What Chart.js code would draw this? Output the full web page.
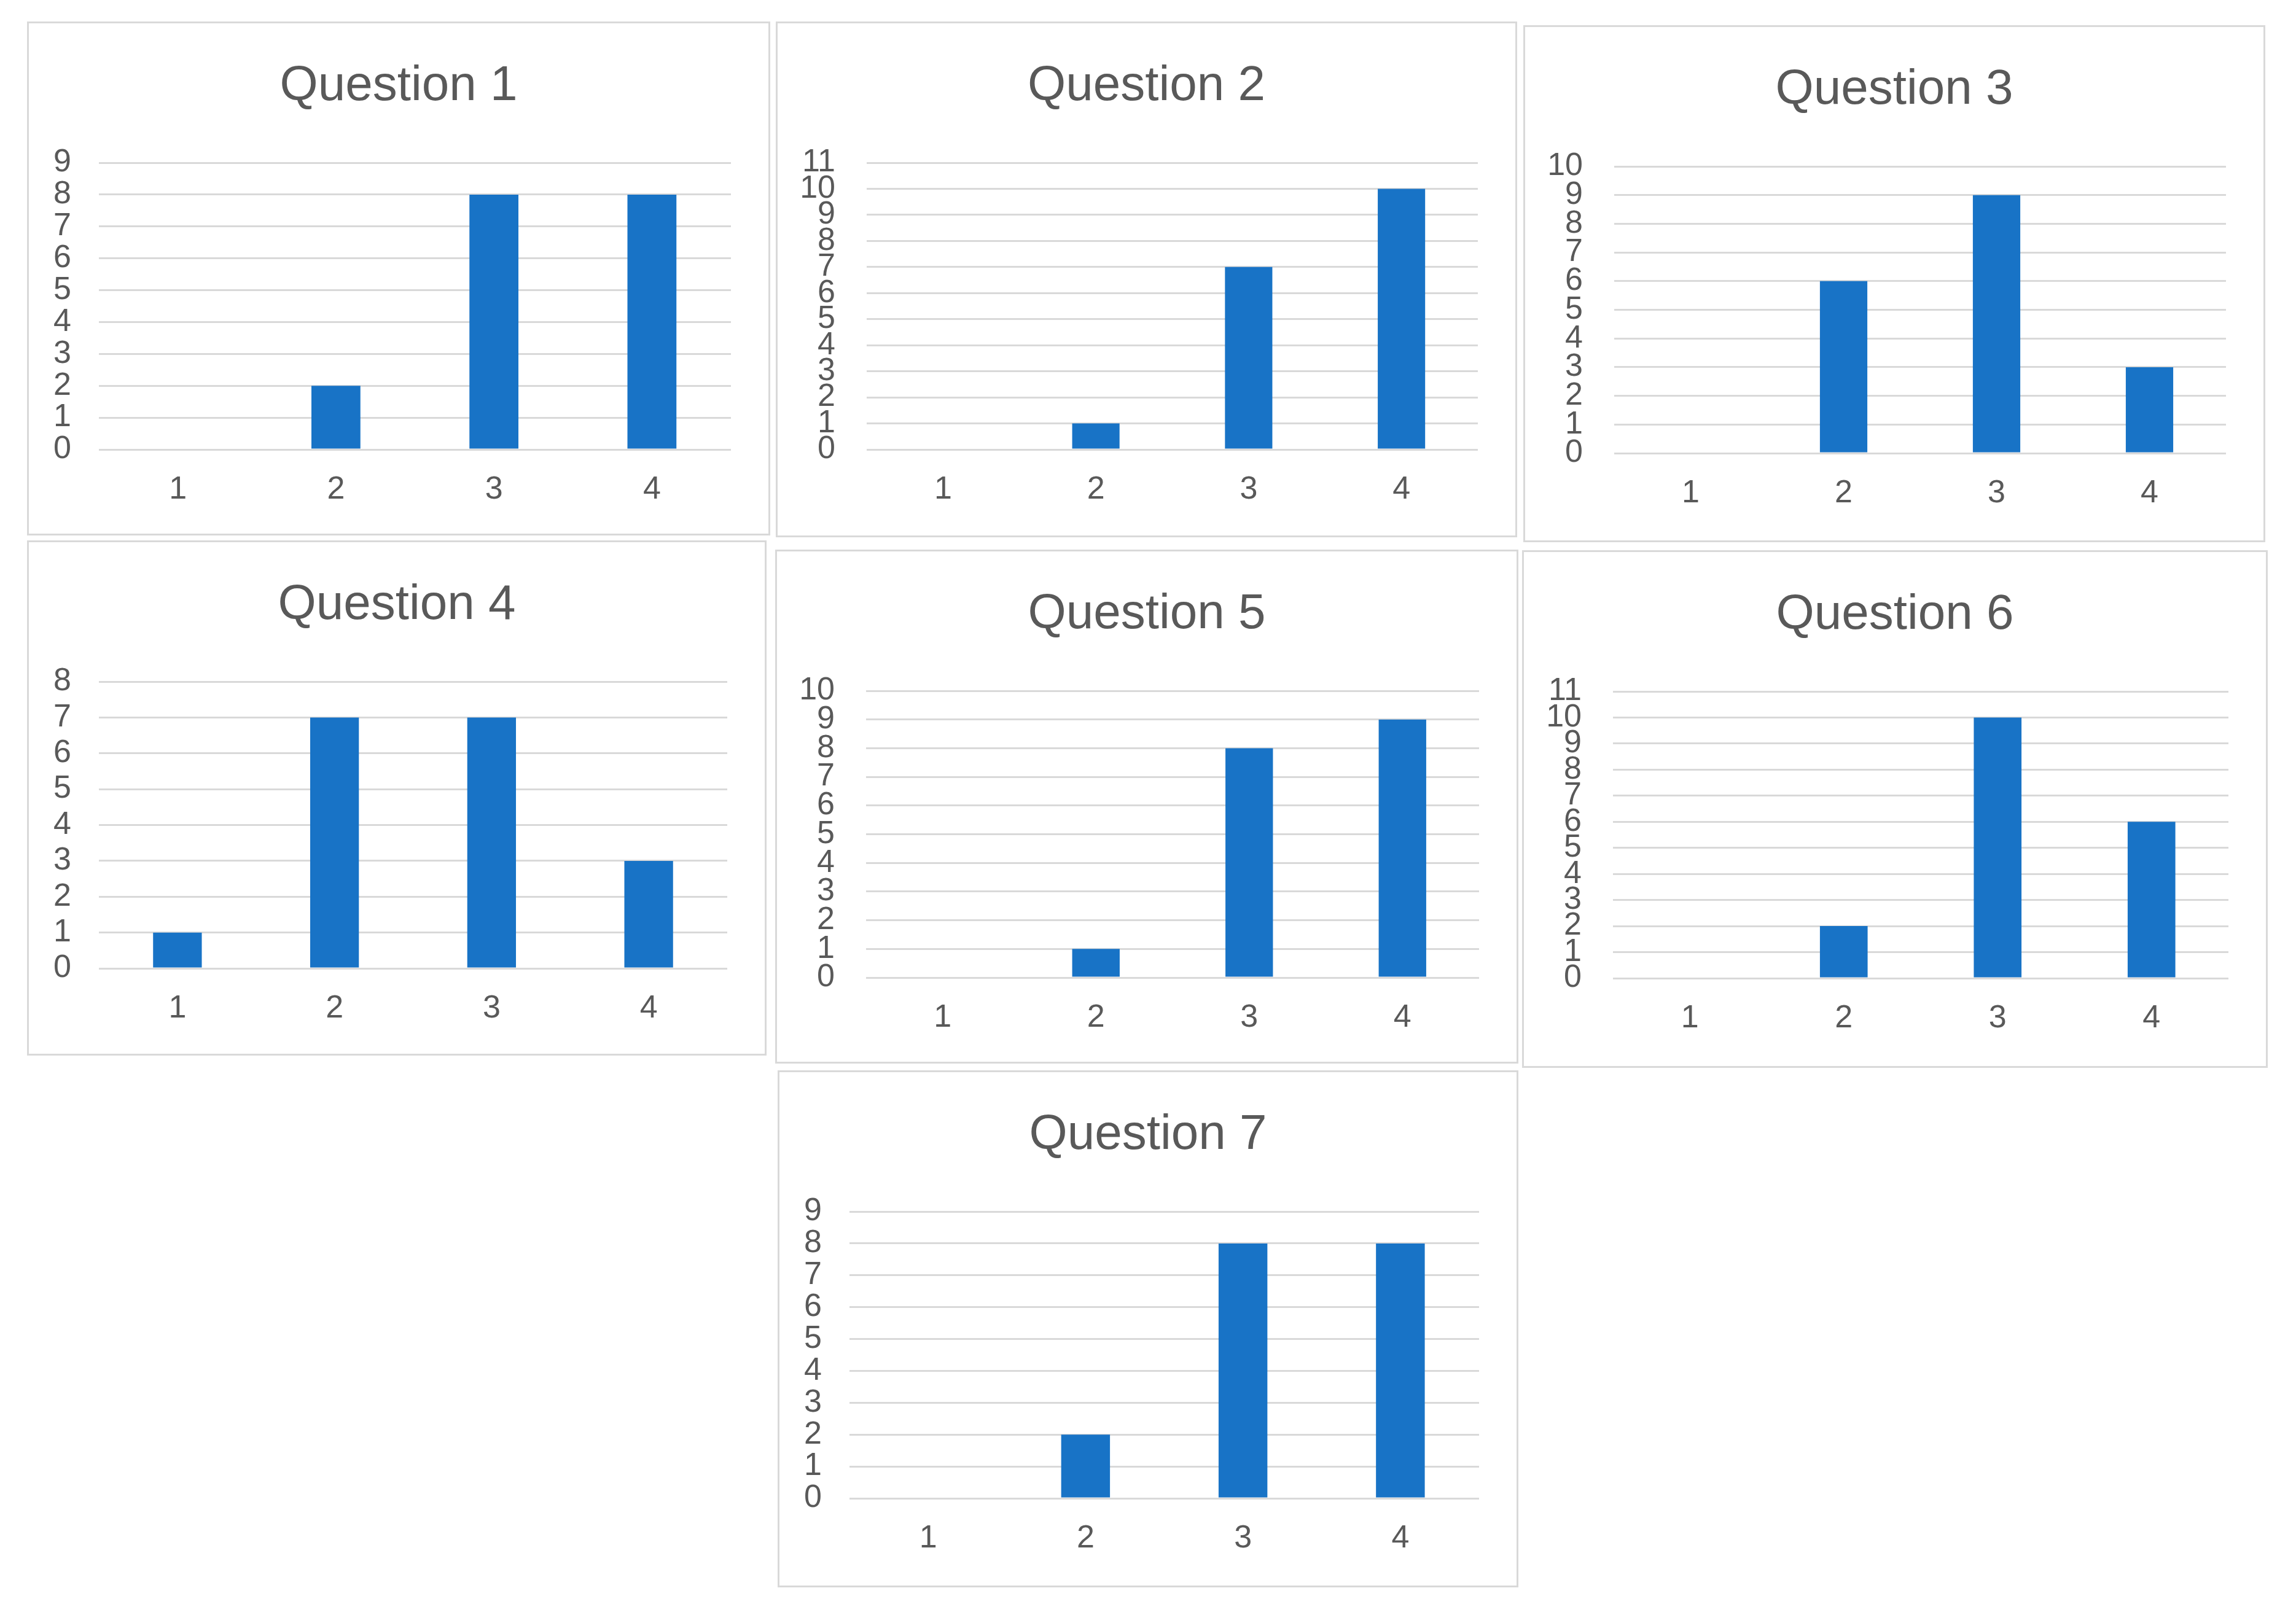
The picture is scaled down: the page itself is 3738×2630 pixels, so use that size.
<!DOCTYPE html>
<html>
<head>
<meta charset="utf-8">
<script src="https://cdn.jsdelivr.net/npm/chart.js@4.4.1/dist/chart.umd.min.js"></script>
<style>
  html, body { margin: 0; padding: 0; background: #fff; width: 3738px; height: 2630px; overflow: hidden; }
  .panel { position: absolute; box-sizing: border-box; border: 3px solid #d9d9d9; background: #fff; }
  .panel canvas { display: block; }
</style>
</head>
<body>
<script>
// === Dados ===
const categories = ["1", "2", "3", "4"];
const titles = ["Question 1", "Question 2", "Question 3", "Question 4", "Question 5", "Question 6", "Question 7"];
const q1 = [0, 2, 8, 8];
const q2 = [0, 1, 7, 10];
const q3 = [0, 6, 9, 3];
const q4 = [1, 7, 7, 3];
const q5 = [0, 1, 8, 9];
const q6 = [0, 2, 10, 6];
const q7 = [0, 2, 8, 8];
const yMax = [9, 11, 10, 8, 10, 11, 9];

const series = [q1, q2, q3, q4, q5, q6, q7];

// caixas dos painéis: [esquerda, topo, direita, baixo]
const boxes = [
  [44, 35, 1254, 872],
  [1263, 35, 2470, 875],
  [2480, 41, 3688, 883],
  [44, 880, 1248, 1719],
  [1262, 895, 2472, 1732],
  [2478, 896, 3692, 1739],
  [1266, 1743, 2472, 2585],
];

const BAR = "#1873c6";
const GRID = "#d9d9d9";
const TEXT = "#595959";
const FONT = "'Liberation Sans', Arial, sans-serif";
const RIGHT_GAP = 61;

series.forEach((values, i) => {
  const [l, t, r, b] = boxes[i];
  const div = document.createElement("div");
  div.className = "panel";
  div.style.left = l + "px";
  div.style.top = t + "px";
  div.style.width = (r - l) + "px";
  div.style.height = (b - t) + "px";
  const canvas = document.createElement("canvas");
  const w = r - l - 6;
  const h = b - t - 6;
  canvas.width = w;
  canvas.height = h;
  canvas.style.width = w + "px";
  canvas.style.height = h + "px";
  div.appendChild(canvas);
  document.body.appendChild(div);

  // largura do eixo Y: maior quando há rótulos de dois dígitos
  const twoDigits = yMax[i] >= 10;
  const yWidth = twoDigits ? 145 : 114;
  const yPad = twoDigits ? 51 : 45;

  new Chart(canvas.getContext("2d"), {
    type: "bar",
    data: {
      labels: categories,
      datasets: [{
        data: values,
        backgroundColor: BAR,
        borderWidth: 0,
        barPercentage: 0.31,
        categoryPercentage: 1,
      }],
    },
    options: {
      responsive: false,
      animation: false,
      devicePixelRatio: 1,
      layout: { padding: 0 },
      plugins: {
        legend: { display: false },
        tooltip: { enabled: false },
        title: {
          display: true,
          text: titles[i],
          color: TEXT,
          font: { family: FONT, size: 80, weight: "normal", lineHeight: 1.2 },
          padding: { top: 55, bottom: 76 },
        },
      },
      scales: {
        x: {
          grid: { display: false, drawTicks: false },
          border: { display: false },
          ticks: { color: TEXT, font: { family: FONT, size: 52 }, padding: 34 },
          afterFit: (scale) => { scale.height = h - 694; },
        },
        y: {
          min: 0,
          max: yMax[i],
          grid: { color: GRID, lineWidth: 3, drawTicks: false },
          border: { display: false },
          ticks: { stepSize: 1, autoSkip: false, color: TEXT, font: { family: FONT, size: 52 }, padding: yPad },
          afterFit: (scale) => { scale.width = yWidth; },
        },
        // eixo vazio à direita só para reservar a margem
        yRight: {
          position: "right",
          min: 0,
          max: yMax[i],
          grid: { display: false, drawTicks: false },
          border: { display: false },
          ticks: { display: false },
          afterFit: (scale) => { scale.width = RIGHT_GAP; },
        },
      },
    },
  });
});
</script>
</body>
</html>
